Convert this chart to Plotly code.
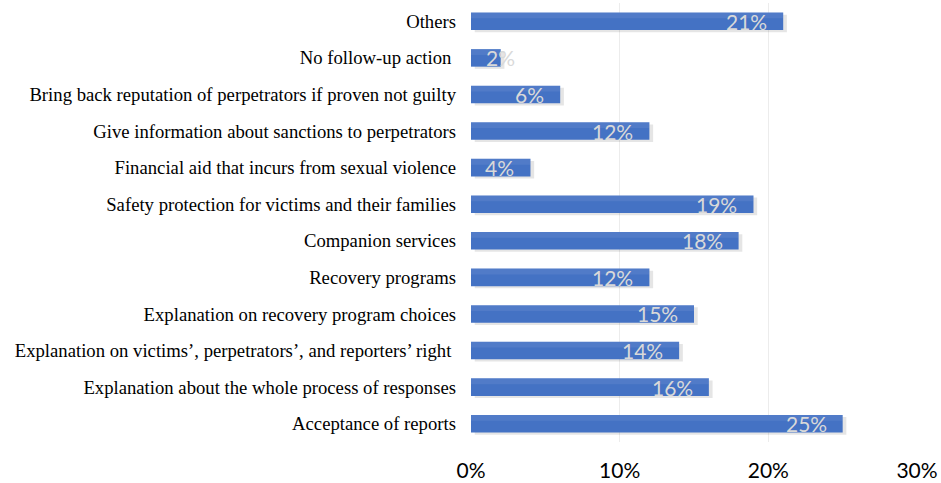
import plotly.graph_objects as go

categories = [
    "Others",
    "No follow-up action\u00a0",
    "Bring back reputation of perpetrators if proven not guilty",
    "Give information about sanctions to perpetrators",
    "Financial aid that incurs from sexual violence",
    "Safety protection for victims and their families",
    "Companion services",
    "Recovery programs",
    "Explanation on recovery program choices",
    "Explanation on victims\u2019, perpetrators\u2019, and reporters\u2019 right\u00a0",
    "Explanation about the whole process of responses",
    "Acceptance of reports",
]
values = [21, 2, 6, 12, 4, 19, 18, 12, 15, 14, 16, 25]
tick_vals = [0, 10, 20, 30]
tick_text = ["0%", "10%", "20%", "30%"]

BAR = "#4472C4"
fig = go.Figure()

# soft drop shadow
fig.add_trace(go.Bar(
    y=categories, x=values, orientation="h", base=0.25,
    width=0.48, offset=-0.18,
    marker=dict(color="rgba(0,0,0,0.10)", line=dict(width=0)),
    hoverinfo="skip", showlegend=False,
))
fig.add_trace(go.Bar(
    y=categories, x=values, orientation="h",
    width=0.48, offset=-0.24,
    marker=dict(color=BAR, line=dict(width=0)),
    showlegend=False,
))
# lighter upper band to hint at the gradient fill
fig.add_trace(go.Bar(
    y=categories, x=values, orientation="h",
    width=0.16, offset=-0.24,
    marker=dict(color="rgba(255,255,255,0.07)", line=dict(width=0)),
    hoverinfo="skip", showlegend=False,
))

for c, v in zip(categories, values):
    small = v < 3
    fig.add_annotation(
        x=v, y=c, text=f"{v}%", showarrow=False,
        xanchor="center" if small else "right",
        xshift=0 if small else -14,
        font=dict(family="Lato, Liberation Sans, sans-serif", size=21, color="#d9d9d9"),
    )

fig.update_layout(
    width=941, height=483,
    margin=dict(l=471, r=24, t=3, b=41),
    paper_bgcolor="white", plot_bgcolor="white",
    barmode="overlay",
    xaxis=dict(
        range=[0, 30], tickvals=tick_vals, ticktext=tick_text,
        showgrid=True, gridcolor="#ececec", gridwidth=1,
        zeroline=False, showline=False, automargin=False,
        tickfont=dict(family="Lato, Liberation Sans, sans-serif", size=21, color="#000"),
        ticklabelstandoff=14,
    ),
    yaxis=dict(
        autorange="reversed", showgrid=False, zeroline=False, showline=False,
        automargin=False,
        tickfont=dict(family="Liberation Serif, Times New Roman, serif", size=18.7, color="#000"),
        ticklabelstandoff=14,
    ),
)

fig.write_html("out.html", config={"displayModeBar": False},
               post_script="document.body.style.margin='0px';")
